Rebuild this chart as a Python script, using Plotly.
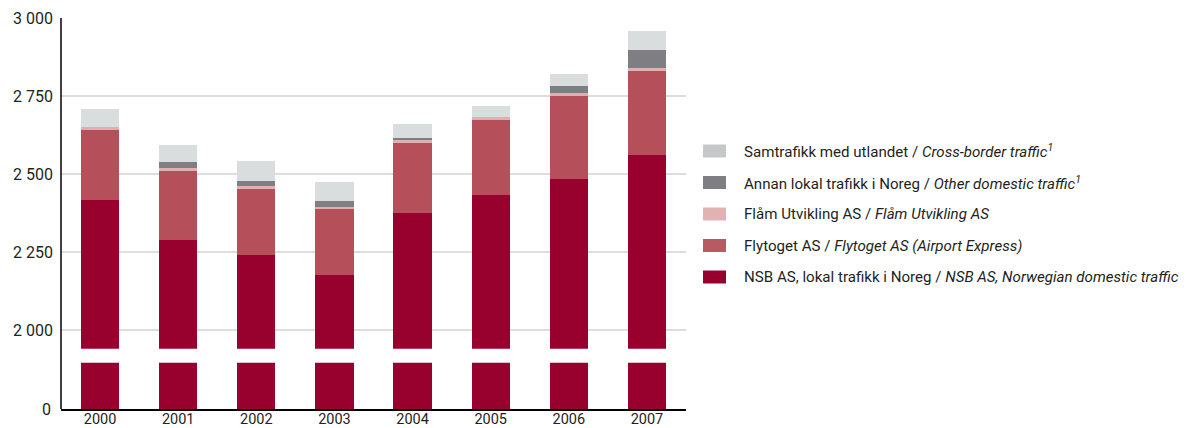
import plotly.graph_objects as go

# --- data ---
years = ['2000', '2001', '2002', '2003', '2004', '2005', '2006', '2007']
nsb_local = [2417, 2290, 2240, 2176, 2375, 2433, 2484, 2561]
flytoget = [224, 220, 212, 212, 224, 240, 266, 269]
flaam = [10, 9, 10, 7, 11, 10, 10, 10]
other_domestic = [0, 20, 15, 18, 6, 0, 22, 57]
cross_border = [57, 55, 64, 61, 44, 35, 38, 61]

series = [
    ('NSB AS, lokal trafikk i Noreg / <i>NSB AS, Norwegian domestic traffic</i>', nsb_local, '#98002E', '#98002E'),
    ('Flytoget AS / <i>Flytoget AS (Airport Express)</i>', flytoget, '#B5505B', '#B95A63'),
    ('Flåm Utvikling AS / <i>Flåm Utvikling AS</i>', flaam, '#E0AFB1', '#E0B2B4'),
    ('Annan lokal trafikk i Noreg / <i>Other domestic traffic<sup>1</sup></i>', other_domestic, '#7F7E83', '#7F7E83'),
    ('Samtrafikk med utlandet / <i>Cross-border traffic<sup>1</sup></i>', cross_border, '#D9DDDE', '#C6C7C9'),
]

# --- geometry: screen pixels, page body has an 8px margin ---
OFF = 8
W, H = 1200 - OFF, 428 - OFF
PLOT_L, PLOT_R, PLOT_T, PLOT_B = 61, 686, 18, 409
L, R, T, B = PLOT_L - OFF, W - (PLOT_R - OFF), PLOT_T - OFF, H - (PLOT_B - OFF)
plot_h = PLOT_B - PLOT_T
plot_w = PLOT_R - PLOT_L


def py(y_px):
    return (PLOT_B - y_px) / plot_h


def px_(x_px):
    return (x_px - PLOT_L) / plot_w


font = 'Roboto'
txt = '#231F20'

fig = go.Figure()

# upper part of the broken axis
for name, vals, col, _ in series:
    fig.add_trace(go.Bar(x=years, y=vals, name=name, marker_color=col,
                         marker_line_width=0, xaxis='x', yaxis='y',
                         showlegend=False, hoverinfo='x+y+name'))

# lower stub (0 .. break)
fig.add_trace(go.Bar(x=years, y=nsb_local, marker_color=series[0][2],
                     marker_line_width=0, xaxis='x', yaxis='y2',
                     showlegend=False, hoverinfo='skip'))

fig.update_layout(
    width=W, height=H,
    margin=dict(l=L, r=R, t=T, b=B, autoexpand=False),
    paper_bgcolor='white', plot_bgcolor='white',
    barmode='stack', bargap=0.51,
    separators='. ',
    font=dict(family=font, size=15, color=txt),
    xaxis=dict(anchor='y2', type='category', range=[-0.5, 7.5],
               showline=True, linecolor='#000000', linewidth=1.5,
               ticks='', showgrid=False, tickfont=dict(size=14.5),
               ticklabelstandoff=-4),
    yaxis=dict(domain=[py(348.7), 1], range=[1940, 3000],
               tickvals=[2000, 2250, 2500, 2750, 3000], tickformat=',d',
               showgrid=True, gridcolor='#DDDDDD', gridwidth=1.5,
               zeroline=False, showline=False, ticks='',
               tickfont=dict(size=16), ticklabelstandoff=7),
    yaxis2=dict(domain=[0, py(362.7)], range=[0, 150],
                tickvals=[0], showgrid=False, zeroline=False,
                showline=False, ticks='', tickfont=dict(size=16),
                ticklabelstandoff=9),
)

# continuous left axis line across the break
fig.add_shape(type='line', xref='paper', yref='paper', x0=0, x1=0,
              y0=0, y1=1, line=dict(color='#000000', width=1.5))

# legend drawn by hand (top row = last series)
row_y = [151, 182.5, 214, 245.5, 277]
for (name, _, _, lcol), yc in zip(series[::-1], row_y):
    fig.add_shape(type='rect', xref='paper', yref='paper',
                  x0=px_(703), x1=px_(726), y0=py(yc + 6.5), y1=py(yc - 6.5),
                  fillcolor=lcol, line_width=0)
    fig.add_annotation(xref='paper', yref='paper', x=px_(742), y=py(yc),
                       text=name, showarrow=False, xanchor='left',
                       yanchor='middle', font=dict(family=font, size=15.1, color=txt))

fig.write_html('out.html')
